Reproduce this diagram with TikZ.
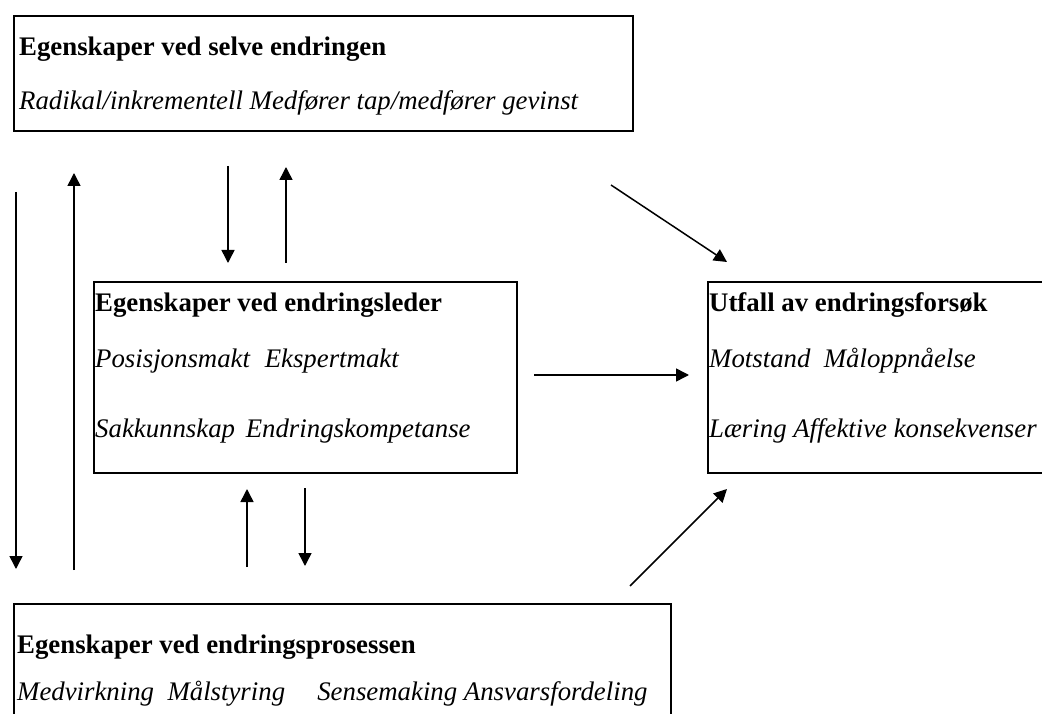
\documentclass[tikz,border=0pt]{standalone}
\usepackage{fontspec}
\setmainfont{Liberation Serif}
\usepackage{tikz}
\usetikzlibrary{positioning,arrows.meta,calc}

\tikzset{
  boks/.style={draw, line width=1.6pt, rectangle, anchor=north west, inner sep=0pt},
  tittel/.style={anchor=base west, inner sep=0pt, font=\bfseries},
  punkt/.style={anchor=base west, inner sep=0pt, font=\itshape},
  pil/.style={line width=1.5pt, -{Triangle[length=13pt,width=13pt]}}
}

\begin{document}
\begin{tikzpicture}[x=1pt,y=-1pt]
\fontsize{26.8}{30}\selectfont
\useasboundingbox (0,0) rectangle (1042,714);

% boksene
\node[boks, minimum width=619pt, minimum height=115pt] (selve) at (13,15) {};
\node[boks, minimum width=423pt, minimum height=191pt] (leder) at (93,281) {};
\node[boks, minimum width=360pt, minimum height=191pt] (utfall) at (707,281) {};
\node[boks, minimum width=657pt, minimum height=140pt] (prosess) at (13,603) {};

% tekst
\node[tittel] (tSelve) at (19,56) {Egenskaper ved selve endringen};
\node[punkt] (pSelve) at (19,110) {Radikal/inkrementell Medfører tap/medfører gevinst};
\node[tittel] (tLeder) at (95,311) {Egenskaper ved endringsleder};
\node[punkt] (pLeder1) at (95,367) {Posisjonsmakt\hspace{0.55em}Ekspertmakt};
\node[punkt] (pLeder2) at (95,437) {Sakkunnskap\hspace{0.4em}Endringskompetanse};
\node[tittel] (tUtfall) at (709,311) {Utfall av endringsforsøk};
\node[punkt] (pUtfall1) at (709,367) {Motstand\hspace{0.5em}Måloppnåelse};
\node[punkt] (pUtfall2) at (709,437) {Læring Affektive konsekvenser};
\node[tittel] (tProsess) at (17,653) {Egenskaper ved endringsprosessen};
\node[punkt] (pProsess) at (17,700) {Medvirkning\hspace{0.5em}Målstyring\hspace{1.2em}Sensemaking Ansvarsfordeling};

% endepunkter for pilene
\coordinate (v1a) at (16,192); \coordinate (v1b) at (16,569);
\coordinate (v2a) at (74,570); \coordinate (v2b) at (74,173);
\coordinate (o1a) at (228,166); \coordinate (o1b) at (228,263);
\coordinate (o2a) at (286,263); \coordinate (o2b) at (286,167);
\coordinate (n1a) at (247,567); \coordinate (n1b) at (247,489);
\coordinate (n2a) at (305,488); \coordinate (n2b) at (305,566);
\coordinate (h1a) at (534,375); \coordinate (h1b) at (689,375);
\coordinate (d1a) at (611,185); \coordinate (d1b) at (727,262);
\coordinate (d2a) at (630,586); \coordinate (d2b) at (727,489);

\draw[pil] (v1a) -- (v1b); \draw[pil] (v2a) -- (v2b);
\draw[pil] (o1a) -- (o1b); \draw[pil] (o2a) -- (o2b);
\draw[pil] (n1a) -- (n1b); \draw[pil] (n2a) -- (n2b);
\draw[pil] (h1a) -- (h1b);
\draw[pil] (d1a) -- (d1b); \draw[pil] (d2a) -- (d2b);
\end{tikzpicture}
\end{document}
